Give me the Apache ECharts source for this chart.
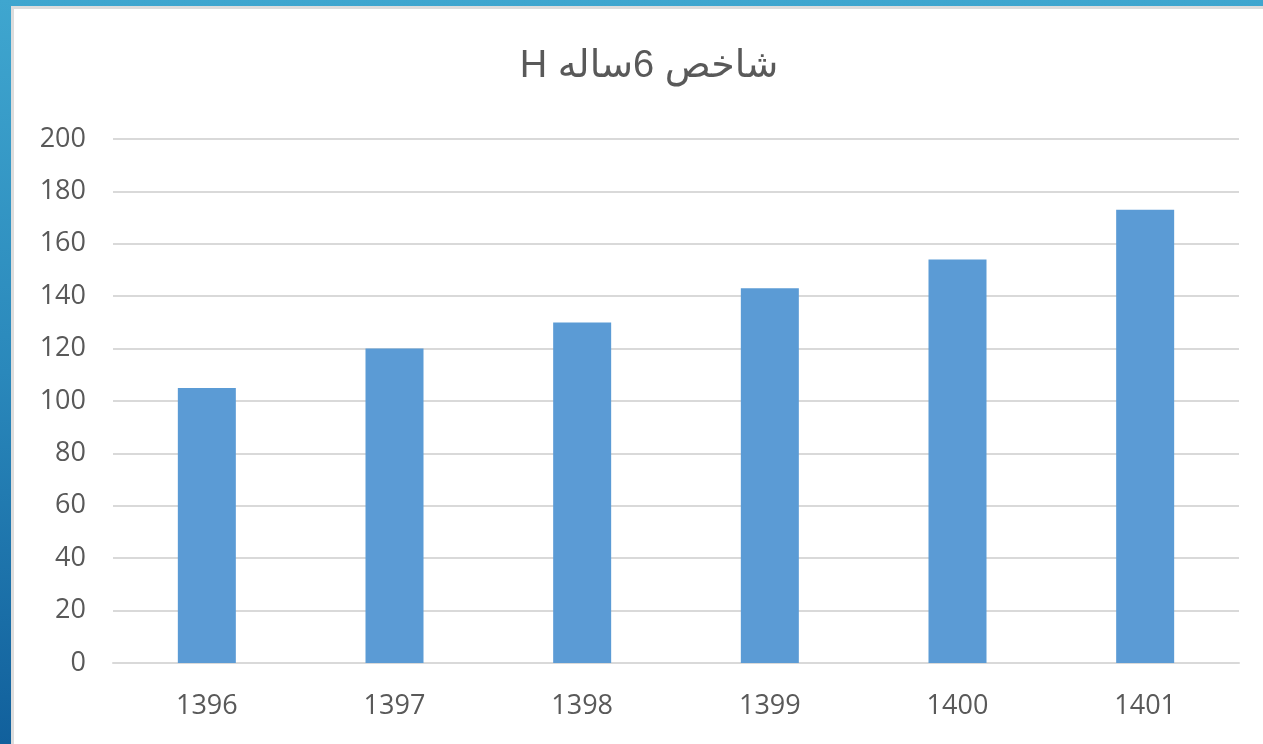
<!DOCTYPE html>
<html>
<head>
<meta charset="utf-8">
<script src="https://cdn.jsdelivr.net/npm/echarts@6/dist/echarts.min.js"></script>
<style>
html,body{margin:0;padding:0;width:1263px;height:744px;overflow:hidden;}
body{background:linear-gradient(to bottom,#3fa6cf 0%,#2a88bb 50%,#11609c 100%);position:relative;}
#panel{position:absolute;left:11px;top:6px;right:0;bottom:0;background:#fff;border-left:3px solid #dcdcdc;border-top:3px solid #dcdcdc;}
#chart{position:absolute;left:0;top:0;width:1263px;height:744px;}
</style>
</head>
<body>
<div id="panel"></div>
<div id="chart"></div>
<script>
var titleText = 'شاخص 6ساله H';
var categories = ['1396','1397','1398','1399','1400','1401'];
var values = [105, 120, 130, 143, 154, 173];
var yTicks = {min:0, max:200, interval:20};

var chart = echarts.init(document.getElementById('chart'), null, {renderer:'canvas'});
chart.setOption({
  backgroundColor:'transparent',
  animation:false,
  title:{
    text:'\u202B' + titleText + '\u202C', left:644, textAlign:'center', top:43,
    textStyle:{fontFamily:'Liberation Sans, Arial, DejaVu Sans', fontSize:38, fontWeight:'normal', color:'#595959'}
  },
  grid:{left:113, right:24, top:139, bottom:81},
  xAxis:{
    type:'category', data:categories,
    axisLine:{show:true, lineStyle:{color:'#d9d9d9', width:2}},
    axisTick:{show:false},
    axisLabel:{margin:30, fontFamily:'Open Sans, Liberation Sans', fontSize:27, color:'#595959'}
  },
  yAxis:{
    type:'value', min:yTicks.min, max:yTicks.max, interval:yTicks.interval,
    axisLine:{show:false}, axisTick:{show:false},
    splitLine:{lineStyle:{color:'#d9d9d9', width:2}},
    axisLabel:{margin:27, fontFamily:'Open Sans, Liberation Sans', fontSize:27, color:'#595959'}
  },
  series:[{
    type:'bar', data:values, barWidth:58,
    itemStyle:{color:'#5b9bd5'}
  }]
});
</script>
</body>
</html>
